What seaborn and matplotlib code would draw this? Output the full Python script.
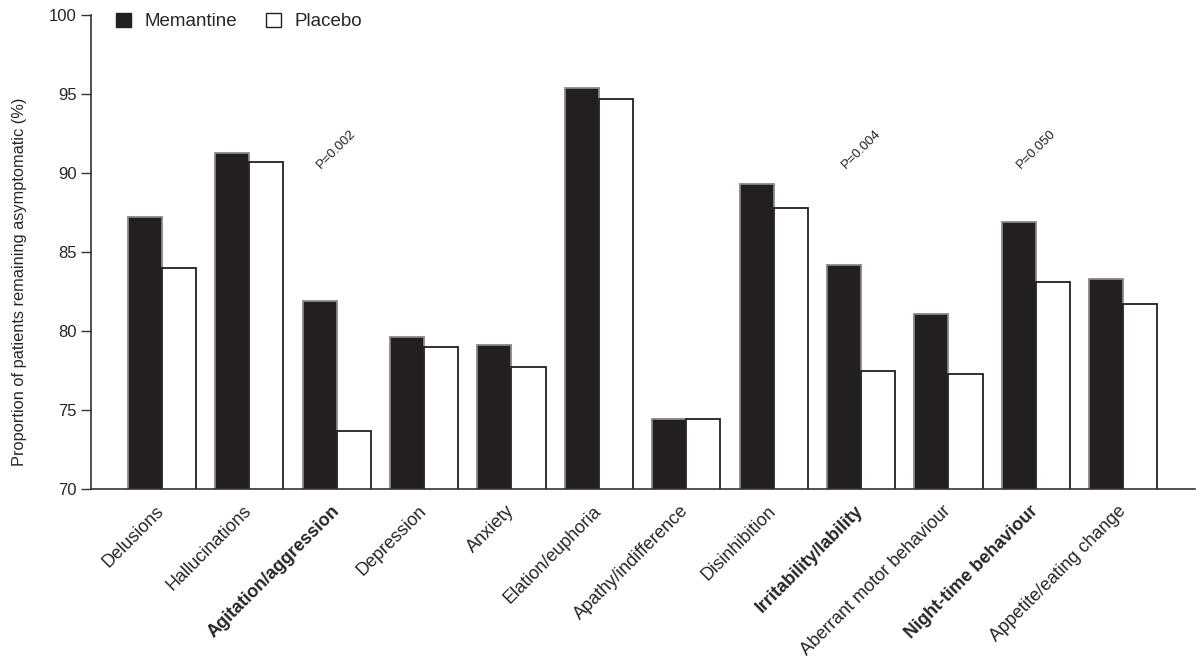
import matplotlib
matplotlib.use("Agg")
import matplotlib.pyplot as plt
from matplotlib.patches import Patch
import seaborn as sns
import pandas as pd

categories = ["Delusions", "Hallucinations", "Agitation/aggression", "Depression",
              "Anxiety", "Elation/euphoria", "Apathy/indifference", "Disinhibition",
              "Irritability/lability", "Aberrant motor behaviour", "Night-time behaviour",
              "Appetite/eating change"]
memantine = [87.2, 91.3, 81.9, 79.6, 79.1, 95.4, 74.4, 89.3, 84.2, 81.1, 86.9, 83.3]
placebo = [84.0, 90.7, 73.7, 79.0, 77.7, 94.7, 74.4, 87.8, 77.5, 77.3, 83.1, 81.7]
bold_categories = ["Agitation/aggression", "Irritability/lability", "Night-time behaviour"]
p_labels = {"Agitation/aggression": "P=0.002", "Irritability/lability": "P=0.004",
            "Night-time behaviour": "P=0.050"}
p_label_y = 91.5
yticks = [70, 75, 80, 85, 90, 95, 100]

sns.set_style("ticks")
plt.rcParams['font.family'] = ['Liberation Sans', 'DejaVu Sans']

df = pd.DataFrame({
    "category": categories * 2,
    "value": memantine + placebo,
    "group": ["Memantine"] * len(categories) + ["Placebo"] * len(categories),
})

fig = plt.figure(figsize=(11.96, 6.59), dpi=100)
ax = fig.add_axes([0.0761, 0.258, 0.923, 0.719])

colors = {"Memantine": "#231f20", "Placebo": "#ffffff"}
sns.barplot(data=df, x="category", y="value", hue="group", order=categories,
            hue_order=["Memantine", "Placebo"], palette=colors, saturation=1,
            width=0.78, gap=0, errorbar=None, legend=False, ax=ax)

for cont, ec in zip(ax.containers, ["#888888", "#231f20"]):
    for bar in cont:
        bar.set_edgecolor(ec)
        bar.set_linewidth(1.3)

ax.set_ylim(70, 100)
ax.set_xlim(-0.81, 11.82)
ax.set_yticks(yticks)
ax.set_yticklabels([str(t) for t in yticks], fontsize=12)
ax.set_xlabel("")
ax.set_ylabel("Proportion of patients remaining asymptomatic (%)", fontsize=11.8)
ax.yaxis.set_label_coords(-0.058, 0.437)

ax.set_xticks(range(len(categories)))
ax.set_xticklabels(categories, rotation=45, ha="right", va="center",
                   rotation_mode="anchor", fontsize=13)
for lbl in ax.get_xticklabels():
    if lbl.get_text() in bold_categories:
        lbl.set_fontweight("bold")
ax.tick_params(axis="x", length=0, pad=14)
ax.tick_params(axis="y", length=7, width=1, color="#333333", direction="out")

for sp in ["top", "right"]:
    ax.spines[sp].set_visible(False)
for sp in ["left", "bottom"]:
    ax.spines[sp].set_color("#333333")
    ax.spines[sp].set_linewidth(1.2)

for i, cat in enumerate(categories):
    if cat in p_labels:
        ax.text(i, p_label_y, p_labels[cat], rotation=45, ha="center", va="center",
                fontsize=9.5, color="#222222")

handles = [Patch(facecolor="#231f20", edgecolor="#231f20", label="Memantine"),
           Patch(facecolor="#ffffff", edgecolor="#231f20", label="Placebo")]
ax.legend(handles=handles, loc="upper left", bbox_to_anchor=(0.023, 1.005), ncol=2,
          frameon=False, fontsize=13.5, handlelength=0.8, handleheight=0.8,
          handletextpad=0.7, columnspacing=1.55, borderpad=0, borderaxespad=0)

fig.savefig("out.png", dpi=100)
